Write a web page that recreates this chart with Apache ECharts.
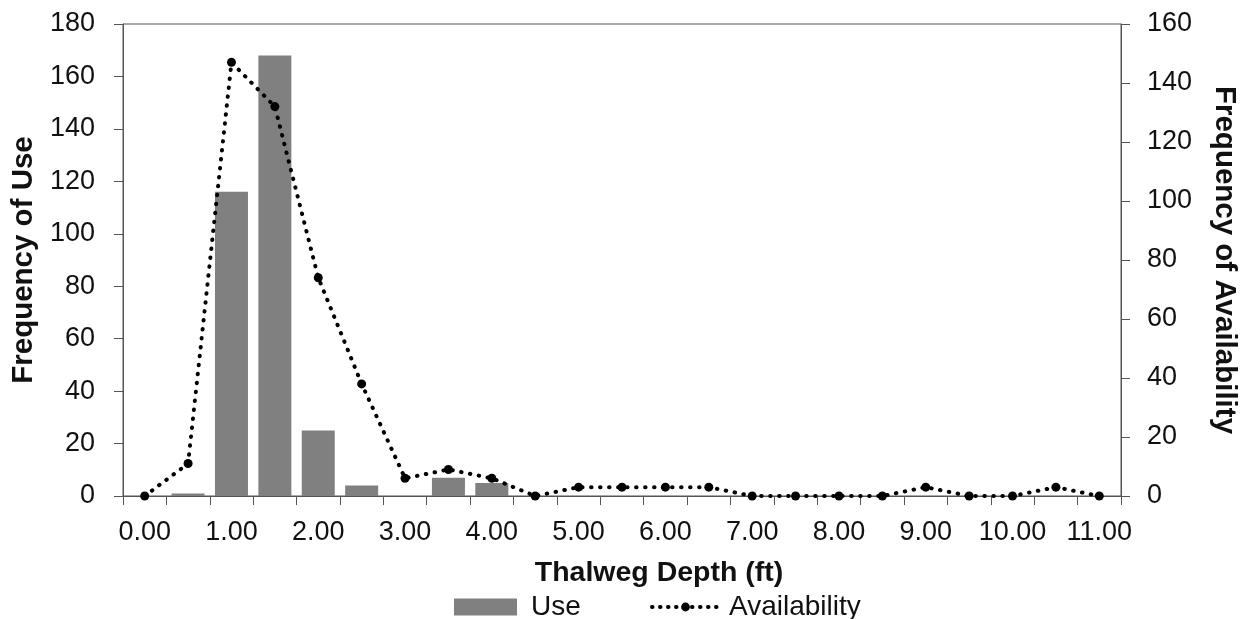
<!DOCTYPE html>
<html>
<head>
<meta charset="utf-8">
<script src="https://cdn.jsdelivr.net/npm/echarts@6/dist/echarts.min.js"></script>
<style>
html,body{margin:0;padding:0;background:#fff;}
#chart{width:1252px;height:619px;}
</style>
</head>
<body>
<div id="chart"></div>
<script>
var categories = ['0.00','0.50','1.00','1.50','2.00','2.50','3.00','3.50','4.00','4.50','5.00','5.50',
  '6.00','6.50','7.00','7.50','8.00','8.50','9.00','9.50','10.00','10.50','11.00'];
var useValues = [0,1,116,168,25,4,0,7,5,0,0,0,0,0,0,0,0,0,0,0,0,0,0];
var availabilityValues = [0,11,147,132,74,38,6,9,6,0,3,3,3,3,0,0,0,0,3,0,0,3,0];
var leftTicks = {min:0, max:180, interval:20};
var rightTicks = {min:0, max:160, interval:20};

var FONT = "'Liberation Sans', Arial, sans-serif";
var TXT = '#111';
var AX = '#555';

var chart = echarts.init(document.getElementById('chart'), null, {renderer:'canvas'});
chart.setOption({
  animation:false,
  backgroundColor:'#fff',
  textStyle:{fontFamily:FONT},
  grid:{left:123, right:131, top:24, bottom:123, show:true, borderColor:AX, borderWidth:1, backgroundColor:'transparent'},
  legend:[{
    data:['Use'], left:449, top:588, itemWidth:63, itemHeight:17, icon:'rect',
    textStyle:{fontSize:28, color:TXT, fontFamily:FONT, padding:[0,0,0,9]}
  },{
    data:['Availability'], left:645, top:588, itemWidth:67, itemHeight:11,
    lineStyle:{width:4, type:[0.5,7.5], cap:'round'},
    textStyle:{fontSize:28, color:TXT, fontFamily:FONT, padding:[0,0,0,5]}
  }],
  xAxis:{
    type:'category', data:categories, boundaryGap:true,
    name:'Thalweg Depth (ft)', nameLocation:'middle', nameGap:63,
    nameTextStyle:{fontSize:28.5, fontWeight:'bold', color:TXT, fontFamily:FONT, padding:[0,0,0,74]},
    axisLine:{show:true, lineStyle:{color:AX, width:1}},
    axisTick:{show:true, interval:0, length:9, inside:false, alignWithLabel:false, lineStyle:{color:AX, width:1}},
    axisLabel:{interval:1, fontSize:27, color:TXT, margin:23, fontFamily:FONT},
    splitLine:{show:false}
  },
  yAxis:[{
    type:'value', position:'left', min:leftTicks.min, max:leftTicks.max, interval:leftTicks.interval,
    name:'Frequency of Use', nameLocation:'middle', nameGap:82, nameRotate:90,
    nameTextStyle:{fontSize:29.5, fontWeight:'bold', color:TXT, fontFamily:FONT},
    axisLine:{show:true, lineStyle:{color:AX, width:1}},
    axisTick:{show:true, length:9, lineStyle:{color:AX, width:1}},
    axisLabel:{fontSize:27, color:TXT, margin:28, fontFamily:FONT},
    splitLine:{show:false}
  },{
    type:'value', position:'right', min:rightTicks.min, max:rightTicks.max, interval:rightTicks.interval,
    name:'Frequency of Availability', nameLocation:'middle', nameGap:88, nameRotate:-90,
    nameTextStyle:{fontSize:29.5, fontWeight:'bold', color:TXT, fontFamily:FONT},
    axisLine:{show:true, lineStyle:{color:AX, width:1}},
    axisTick:{show:true, length:9, lineStyle:{color:AX, width:1}},
    axisLabel:{fontSize:27, color:TXT, margin:26, fontFamily:FONT},
    splitLine:{show:false}
  }],
  series:[{
    name:'Use', type:'bar', yAxisIndex:0, data:useValues, barWidth:33,
    itemStyle:{color:'#808080'}, z:2
  },{
    name:'Availability', type:'line', yAxisIndex:1, data:availabilityValues,
    symbol:'circle', symbolSize:9, showSymbol:true,
    itemStyle:{color:'#000'},
    lineStyle:{color:'#000', width:4, type:[0.5,8.5], cap:'round'},
    z:3
  }]
});
</script>
</body>
</html>
